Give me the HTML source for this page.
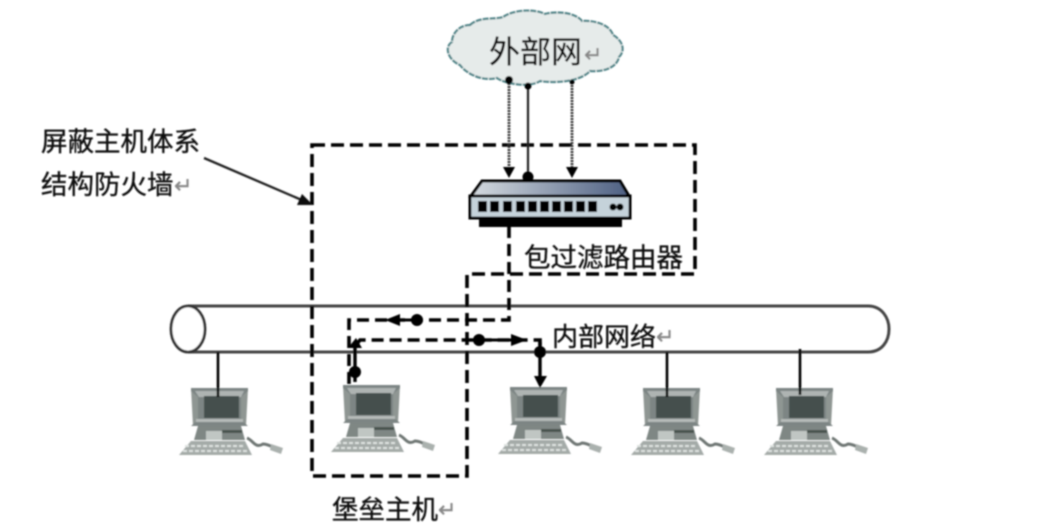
<!DOCTYPE html>
<html><head><meta charset="utf-8">
<style>
html,body{margin:0;padding:0;background:#fff;width:1052px;height:527px;overflow:hidden}
svg{display:block}
text{font-family:"Liberation Sans","WenQuanYi Zen Hei","Noto Sans CJK SC",sans-serif;fill:#111;stroke:#111;stroke-width:.35px}
.r{fill:#888;stroke:#888;font-size:22px}
</style></head><body>
<svg width="1052" height="527" viewBox="0 0 1052 527" xmlns="http://www.w3.org/2000/svg">
<defs>
<filter id="b" x="-5%" y="-5%" width="110%" height="110%"><feGaussianBlur stdDeviation="0.7"/></filter>
<linearGradient id="g" x1="0" x2="1" y1="0" y2="0"><stop offset="0" stop-color="#d5dbe0"/><stop offset="1" stop-color="#4d5f82"/></linearGradient>
<g id="pc">
<path d="M0 0H57L55 38H2Z" fill="#8f9693"/>
<path d="M0 0H57V3L50 9V32L57 38H0L7 32V9L0 3Z" fill="#7d8584"/>
<path d="M4 3H53L50 9H8Z" fill="#aeb4b2"/>
<rect x="5" y="31" width="47" height="3" fill="#b5bab8"/>
<rect x="13" y="8" width="35" height="22" fill="#454f4e"/>
<path d="M7 38H50L54 52H3Z" fill="#7f8784"/>
<rect x="15" y="43" width="16" height="9" fill="#c0c6c3"/>
<rect x="31" y="42" width="20" height="3" fill="#4a5250"/>
<path d="M0 53H54L61 67H-12Z" fill="#a4aba8"/>
<path d="M-6 58H54M-8 63H57" stroke="#dfe3e1" stroke-width="2" stroke-dasharray="4 2"/>
<path d="M56 50C62 52 64 61 72 56C76 56 80 58 84 60" fill="none" stroke="#6f7774" stroke-width="3"/>
<path d="M80 56L92 60L90 66L79 62Z" fill="#aab1ae"/>
</g>
</defs>
<g filter="url(#b)">
<!-- cloud -->
<path d="M470 25C480 16 495 20 503 17C515 9 535 9 545 14C555 11 575 12 582 21C595 20 610 25 613 35C622 40 626 50 619 57C617 67 605 72 590 71C582 80 560 84 540 81C530 88 505 84 497 78C480 82 465 72 460 65C448 60 444 47 452 42C452 33 460 25 470 25Z" fill="#e6ebea" stroke="#4f8488" stroke-width="2.2" stroke-dasharray="6 1"/>
<text x="489" y="63" font-size="31">外部网</text>
<text x="584" y="62" class="r">↵</text>

<!-- pipe -->
<path d="M188 306H868C882 306 889 318 889 329C889 341 882 352 868 352H188" fill="none" stroke="#444" stroke-width="3"/>
<ellipse cx="188" cy="329" rx="17" ry="23" fill="#fff" stroke="#333" stroke-width="2.8"/>

<!-- computers -->
<use href="#pc" x="191" y="388"/>
<use href="#pc" x="343" y="385"/>
<use href="#pc" x="510" y="387"/>
<use href="#pc" x="643" y="388"/>
<use href="#pc" x="776" y="388"/>
<!-- drops -->
<path d="M218 352V397M667 352V397M800 349V395" stroke="#000" stroke-width="2.6" fill="none"/>

<!-- firewall outline -->
<path d="M312 145H695V274H467V476H312Z" fill="none" stroke="#000" stroke-width="3.6" stroke-dasharray="13 6"/>

<!-- links from cloud -->
<path d="M509 80V170M572 82V170" stroke="#333" stroke-width="2.8" stroke-dasharray="2 1" fill="none"/>
<path d="M528 86V175" stroke="#222" stroke-width="2.2" fill="none"/>
<circle cx="509" cy="80" r="4" fill="#000"/><circle cx="528" cy="86" r="3.5" fill="#000"/><circle cx="572" cy="82" r="2.5" fill="#000"/>
<path d="M503 167H515L509 178ZM566 167H578L572 178Z" fill="#000"/>
<circle cx="528" cy="177" r="5.5" fill="#000"/>

<!-- router -->
<path d="M482 181H620L629 196H471Z" fill="url(#g)" stroke="#000" stroke-width="3"/>
<rect x="470" y="196" width="160" height="22" fill="#c5d2da" stroke="#000" stroke-width="3"/>
<rect x="479" y="218" width="143" height="9" fill="#000"/>
<g fill="#000"><rect x="478" y="201" width="9" height="11"/><rect x="490" y="201" width="9" height="11"/><rect x="503" y="201" width="9" height="11"/><rect x="516" y="201" width="9" height="11"/><rect x="528" y="201" width="9" height="11"/><rect x="540" y="201" width="9" height="11"/><rect x="552" y="201" width="9" height="11"/><rect x="564" y="201" width="9" height="11"/><rect x="576" y="201" width="9" height="11"/><rect x="588" y="201" width="9" height="11"/></g>
<circle cx="613" cy="207" r="3.5" fill="#000"/><circle cx="620" cy="207" r="3.5" fill="#000"/>

<!-- router to bastion -->
<path d="M509 226V320H349V384" fill="none" stroke="#000" stroke-width="3.6" stroke-dasharray="12 6"/>
<path d="M385 320L400 314V326Z" fill="#000"/>
<circle cx="417" cy="320" r="6" fill="#000"/>
<path d="M399 320H417" stroke="#000" stroke-width="3"/>

<!-- bastion to host -->
<path d="M356 345L360 340H540V352" fill="none" stroke="#000" stroke-width="3.6" stroke-dasharray="12 6"/>
<path d="M355 345V382" stroke="#000" stroke-width="3.4"/>
<path d="M348 348L356 338L362 348Z" fill="#000"/>
<circle cx="355" cy="372" r="6" fill="#000"/>
<path d="M467 340H512" stroke="#000" stroke-width="3"/>
<circle cx="479" cy="340" r="6" fill="#000"/>
<path d="M511 334L527 340L511 346Z" fill="#000"/>
<path d="M540 342V377" stroke="#000" stroke-width="3.4"/>
<circle cx="540" cy="352" r="6" fill="#000"/>
<path d="M534 376H547L540 388Z" fill="#000"/>

<!-- callout arrow -->
<path d="M204 158L304 201" stroke="#222" stroke-width="2.4" fill="none"/>
<path d="M313 205L297 205L302 194Z" fill="#111"/>

<!-- labels -->
<text x="41" y="151" font-size="26.5">屏蔽主机体系</text>
<text x="41" y="194" font-size="26.5">结构防火墙</text>
<text x="174" y="193" class="r">↵</text>
<text x="524" y="267" font-size="26.5">包过滤路由器</text>
<text x="552" y="346" font-size="26">内部网络</text>
<text x="656" y="344" class="r">↵</text>
<text x="332" y="519" font-size="26.5">堡垒主机</text>
<text x="438" y="517" class="r">↵</text>
</g>
</svg>
</body></html>
